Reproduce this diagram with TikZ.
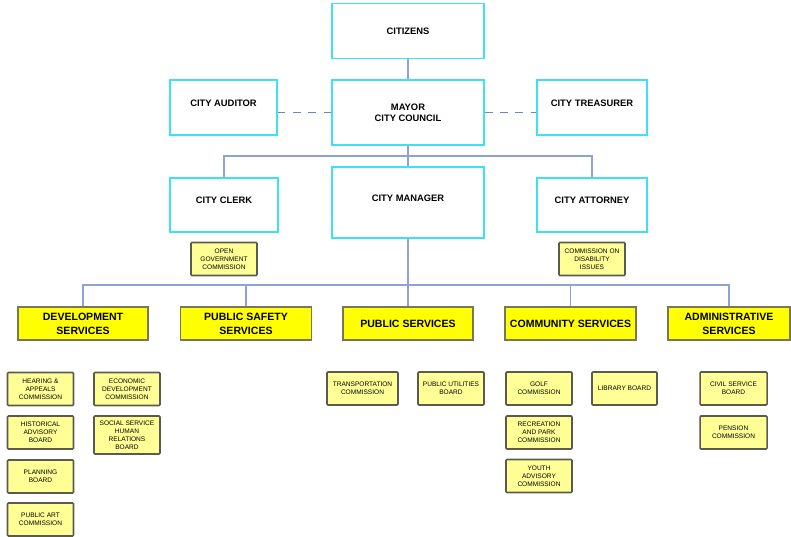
\documentclass[tikz,border=0pt]{standalone}
\usepackage{fontspec}
\setmainfont{Liberation Sans}
\usepackage{tikz}
\usetikzlibrary{positioning}

\definecolor{boxcyan}{RGB}{60,226,240}
\definecolor{linkblue}{RGB}{142,162,212}
\definecolor{dashblue}{RGB}{112,132,192}
\definecolor{svcyellow}{RGB}{255,255,0}
\definecolor{svcedge}{RGB}{120,120,86}
\definecolor{paleyellow}{RGB}{255,255,150}
\definecolor{paleedge}{RGB}{90,90,80}

\def\pxu{0.03cm}

\begin{document}
\begin{tikzpicture}[x=\pxu, y=-\pxu]

\tikzstyle{every node}=[align=center, inner sep=1pt]
\tikzstyle{office}=[draw=boxcyan, line width=1.5pt, fill=white, font=\fontsize{8}{9.5}\selectfont\bfseries]
\tikzstyle{service}=[draw=svcedge, line width=1pt, fill=svcyellow, minimum width=130*\pxu, minimum height=33*\pxu, font=\fontsize{9}{12}\selectfont\bfseries]
\tikzstyle{board}=[draw=paleedge, line width=1.3pt, rounded corners=0.8pt, fill=paleyellow, minimum width=66*\pxu, minimum height=33*\pxu, font=\fontsize{5.6}{6.8}\selectfont]
\tikzstyle{link}=[draw=linkblue, line width=1pt]
\tikzstyle{liaison}=[draw=dashblue, line width=1.5pt, dash pattern=on 6.5pt off 6.5pt]

\useasboundingbox (0,0) rectangle (791,537);

% offices %
\node[office, minimum width=152*\pxu, minimum height=55*\pxu] (citizens) at (408,31) {CITIZENS};
\node[office, minimum width=152*\pxu, minimum height=65*\pxu] (mayor) at (408,112.5) {MAYOR\\CITY COUNCIL};
\node[office, minimum width=107*\pxu, minimum height=55*\pxu, text depth=8pt] (auditor) at (223.5,107.5) {CITY AUDITOR};
\node[office, minimum width=110*\pxu, minimum height=55*\pxu, text depth=8pt] (treasurer) at (592,107.5) {CITY TREASURER};
\node[office, minimum width=108*\pxu, minimum height=54*\pxu, text depth=8pt] (clerk) at (224,205) {CITY CLERK};
\node[office, minimum width=152*\pxu, minimum height=71*\pxu, text depth=8pt] (manager) at (408,202.5) {CITY MANAGER};
\node[office, minimum width=110*\pxu, minimum height=54*\pxu, text depth=8pt] (attorney) at (592,205) {CITY ATTORNEY};

\node[board] (opengov) at (224,259) {OPEN\\GOVERNMENT\\COMMISSION};
\node[board] (disability) at (592,259) {COMMISSION ON\\DISABILITY\\ISSUES};

% services %
\node[service] (devel) at (83,323.5) {DEVELOPMENT\\SERVICES};
\node[service, minimum width=131*\pxu] (safety) at (246,323.5) {PUBLIC SAFETY\\SERVICES};
\node[service] (public) at (408,323.5) {PUBLIC SERVICES};
\node[service, minimum width=131*\pxu] (community) at (570.5,323.5) {COMMUNITY SERVICES};
\node[service, minimum width=122*\pxu] (admin) at (729,323.5) {ADMINISTRATIVE\\SERVICES};

% boards %
\node[board] (hearing) at (40.5,389) {HEARING \&\\APPEALS\\COMMISSION};
\node[board] (historical) at (40.5,432.5) {HISTORICAL\\ADVISORY\\BOARD};
\node[board] (planning) at (40.5,476.5) {PLANNING\\BOARD};
\node[board] (publicart) at (40.5,519.5) {PUBLIC ART\\COMMISSION};
\node[board] (economic) at (127,389) {ECONOMIC\\DEVELOPMENT\\COMMISSION};
\node[board, minimum height=38*\pxu] (social) at (127,435) {SOCIAL SERVICE\\HUMAN\\RELATIONS\\BOARD};

\node[board, minimum width=71*\pxu] (transport) at (362.5,388.5) {TRANSPORTATION\\COMMISSION};
\node[board] (utilities) at (451,388.5) {PUBLIC UTILITIES\\BOARD};

\node[board] (golf) at (539,388.5) {GOLF\\COMMISSION};
\node[board] (recreation) at (539,432.5) {RECREATION\\AND PARK\\COMMISSION};
\node[board] (youth) at (539,476) {YOUTH\\ADVISORY\\COMMISSION};
\node[board, minimum width=65*\pxu] (library) at (624.5,388.5) {LIBRARY BOARD};

\node[board, minimum width=67*\pxu] (civil) at (733.5,388.5) {CIVIL SERVICE\\BOARD};
\node[board, minimum width=67*\pxu] (pension) at (733.5,432.5) {PENSION\\COMMISSION};

% edges %
\coordinate (bus1) at (408,156);
\coordinate (bus2) at (408,285);

\draw[link] (citizens) -- (mayor);
\draw[liaison] (mayor.west) -- (mayor.west -| auditor.east);
\draw[liaison] (mayor.east) -- (mayor.east -| treasurer.west);
\draw[link] (mayor) -- (manager);
\draw[link] (clerk.north) |- (bus1) -| (attorney.north);
\draw[link] (manager) -- (public);
\foreach \s in {devel, safety, community, admin}
  \draw[link] (\s.north) |- (bus2);

\end{tikzpicture}
\end{document}
